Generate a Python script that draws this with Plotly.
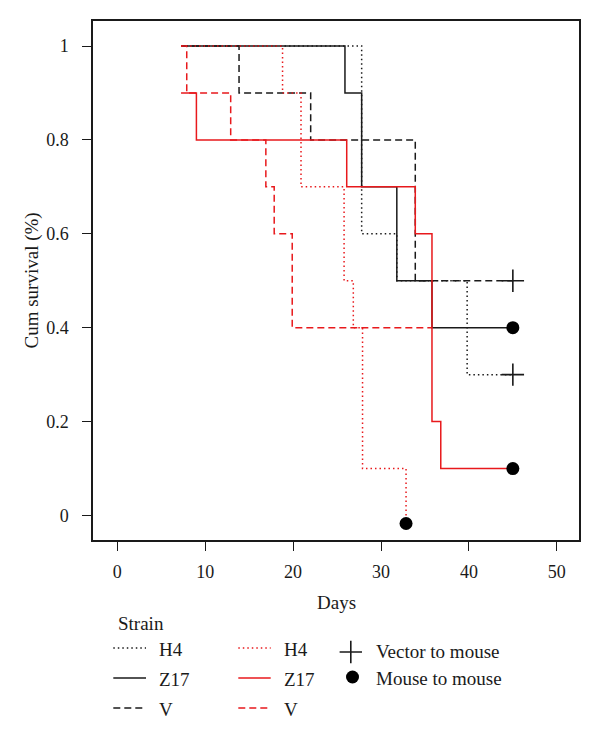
import plotly.graph_objects as go

# ---------------- data ----------------
# Kaplan-Meier step curves: time (days) of each step and survival after it
h4_black_t = [7.25, 27.8, 31.8, 39.8, 45.0]
h4_black_s = [1.0, 0.6, 0.5, 0.3, 0.3]
z17_black_t = [7.25, 25.9, 27.8, 31.8, 35.8, 45.0]
z17_black_s = [1.0, 0.9, 0.7, 0.5, 0.4, 0.4]
v_black_t = [7.25, 13.85, 22.0, 33.9, 45.0]
v_black_s = [1.0, 0.9, 0.8, 0.5, 0.5]

h4_red_t = [7.25, 18.8, 20.9, 25.8, 26.85, 27.9, 32.85]
h4_red_s = [1.0, 0.9, 0.7, 0.5, 0.4, 0.1, 0.0]
z17_red_t = [7.25, 9.0, 26.1, 33.9, 35.8, 36.8, 45.0]
z17_red_s = [0.9, 0.8, 0.7, 0.6, 0.2, 0.1, 0.1]
v_red_t = [7.25, 7.9, 12.9, 16.9, 17.85, 19.9, 35.8]
v_red_s = [1.0, 0.9, 0.8, 0.7, 0.6, 0.4, 0.4]

# end-point symbols
vector_t = [45.0, 45.0]
vector_s = [0.5, 0.3]
mouse_t = [45.0, 45.0, 32.85]
mouse_s = [0.4, 0.1, -0.017]

x_ticks = [0, 10, 20, 30, 40, 50]
y_ticks = [0, 0.2, 0.4, 0.6, 0.8, 1]
y_tick_text = ["0", "0.2", "0.4", "0.6", "0.8", "1"]

legend_title = "Strain"
legend_strains = ["H4", "Z17", "V"]
legend_symbols = ["Vector to mouse", "Mouse to mouse"]

# ---------------- styling / page geometry ----------------
PAGE_W, PAGE_H = 600, 743
OFF = 8                      # default body margin of the html page
W, H = PAGE_W - OFF, PAGE_H - OFF
BLACK = "#1a1a1a"
RED = "#e8191c"
FONT = "Liberation Serif"
TXT = 19
LW = 1.5
DOT = "1.5px,3px"
DASH = "7px,4px"
styles = {"H4": DOT, "Z17": "solid", "V": DASH}


def px_x(p):  # page pixel -> paper x
    return (p - OFF) / W


def px_y(p):  # page pixel -> paper y
    return 1 - (p - OFF) / H


fig = go.Figure()

series = [
    (h4_black_t, h4_black_s, BLACK, DOT),
    (z17_black_t, z17_black_s, BLACK, "solid"),
    (v_black_t, v_black_s, BLACK, DASH),
    (h4_red_t, h4_red_s, RED, DOT),
    (v_red_t, v_red_s, RED, DASH),
    (z17_red_t, z17_red_s, RED, "solid"),
]
for t, s, c, d in series:
    fig.add_trace(go.Scatter(x=t, y=s, mode="lines", line=dict(color=c, width=LW, dash=d, shape="hv"),
                             showlegend=False, hoverinfo="skip", xaxis="x", yaxis="y"))

fig.add_trace(go.Scatter(x=vector_t, y=vector_s, mode="markers",
                         marker=dict(symbol="cross-thin", size=16, line=dict(color=BLACK, width=1.6)),
                         showlegend=False, xaxis="x", yaxis="y"))
fig.add_trace(go.Scatter(x=mouse_t, y=mouse_s, mode="markers",
                         marker=dict(symbol="circle", size=13, color="black"),
                         showlegend=False, xaxis="x", yaxis="y"))

# ---------------- manual legend on a page-pixel helper axis ----------------
LEG_TOP = 560
row_y = [648, 678, 708]
col_black = (113.3, 146.0)
col_red = (238.3, 270.7)
for i, name in enumerate(legend_strains):
    for (x0, x1), c in ((col_black, BLACK), (col_red, RED)):
        fig.add_trace(go.Scatter(x=[x0, x1], y=[row_y[i], row_y[i]], mode="lines",
                                 line=dict(color=c, width=LW, dash=styles[name]),
                                 showlegend=False, hoverinfo="skip", xaxis="x2", yaxis="y2"))
        fig.add_annotation(x=x1 + 11, y=row_y[i] + 1.5, xref="x2", yref="y2", text=name, showarrow=False,
                           xanchor="left", yanchor="middle", font=dict(family=FONT, size=TXT, color=BLACK))
fig.add_annotation(x=116, y=623, xref="x2", yref="y2", text=legend_title, showarrow=False,
                   xanchor="left", yanchor="middle", font=dict(family=FONT, size=TXT, color=BLACK))
fig.add_trace(go.Scatter(x=[350.8], y=[652], mode="markers",
                         marker=dict(symbol="cross-thin", size=16, line=dict(color=BLACK, width=1.6)),
                         showlegend=False, hoverinfo="skip", xaxis="x2", yaxis="y2"))
fig.add_trace(go.Scatter(x=[352.5], y=[677], mode="markers",
                         marker=dict(symbol="circle", size=13, color="black"),
                         showlegend=False, hoverinfo="skip", xaxis="x2", yaxis="y2"))
for yy, txt in zip([651, 678], legend_symbols):
    fig.add_annotation(x=374, y=yy, xref="x2", yref="y2", text=txt, showarrow=False,
                       xanchor="left", yanchor="middle", font=dict(family=FONT, size=TXT, color=BLACK))

# ---------------- axis titles ----------------
fig.add_annotation(x=px_x(336), y=px_y(602), xref="paper", yref="paper", text="Days", showarrow=False,
                   xanchor="center", yanchor="middle", font=dict(family=FONT, size=TXT, color=BLACK))
fig.add_annotation(x=px_x(31), y=px_y(280.5), xref="paper", yref="paper", text="Cum survival (%)",
                   textangle=-90, showarrow=False, xanchor="center", yanchor="middle",
                   font=dict(family=FONT, size=TXT, color=BLACK))

px0, px1, py_top, py_bot = 93, 579, 21, 540
x_range = [(px0 - 117.3) / 8.79, (px1 - 117.3) / 8.79]
y_range = [(515.5 - py_bot) / 469.5, (515.5 - py_top) / 469.5]

fig.update_layout(
    width=W, height=H, margin=dict(l=0, r=0, t=0, b=0),
    paper_bgcolor="white", plot_bgcolor="white",
    font=dict(family=FONT, size=18, color=BLACK),
    xaxis=dict(domain=[px_x(px0), px_x(px1)], range=x_range, tickvals=x_ticks, ticks="outside", ticklen=9,
               tickwidth=1.3, tickcolor=BLACK, showgrid=False, zeroline=False, showline=True, mirror=True,
               linecolor=BLACK, linewidth=1.5, anchor="y", automargin=False, ticklabelstandoff=6,
               tickfont=dict(family=FONT, size=18, color=BLACK)),
    yaxis=dict(domain=[px_y(py_bot), px_y(py_top)], range=y_range, tickvals=y_ticks, ticktext=y_tick_text,
               ticks="outside", ticklen=9, tickwidth=1.3, tickcolor=BLACK, showgrid=False, zeroline=False,
               showline=True, mirror=True, linecolor=BLACK, linewidth=1.5, anchor="x", automargin=False,
               ticklabelstandoff=10, tickfont=dict(family=FONT, size=18, color=BLACK)),
    xaxis2=dict(domain=[0, 1], range=[OFF, PAGE_W], visible=False, anchor="y2", fixedrange=True),
    yaxis2=dict(domain=[0, px_y(LEG_TOP)], range=[PAGE_H, LEG_TOP], visible=False, anchor="x2",
                fixedrange=True),
    showlegend=False,
)

fig.write_html("out.html")
